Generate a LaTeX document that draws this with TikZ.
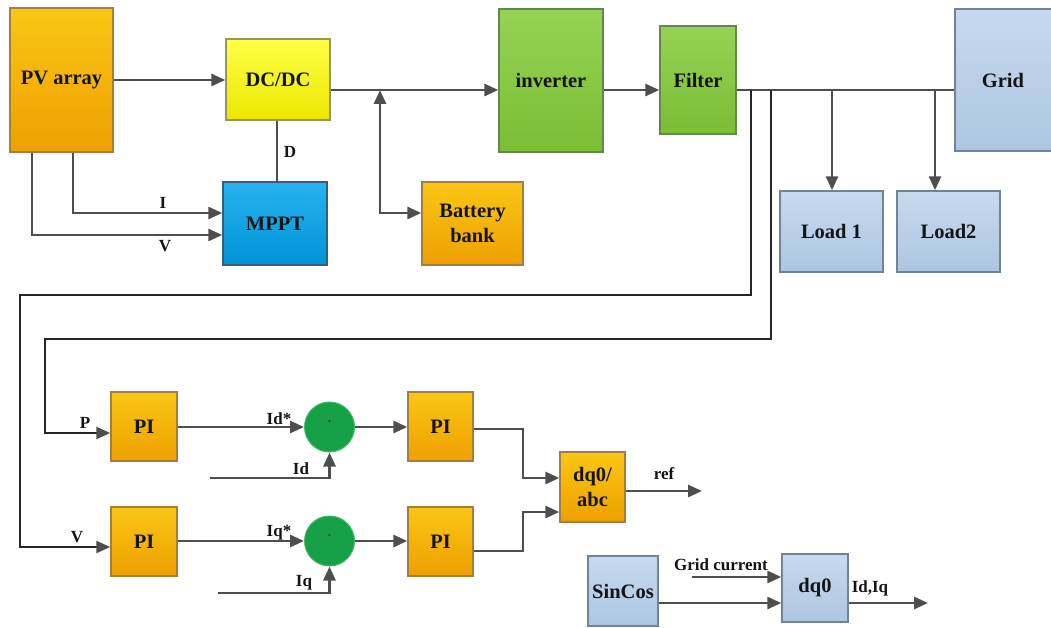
\documentclass[tikz,border=0pt]{standalone}
\usepackage{fontspec}
\setmainfont{Liberation Serif}
\usetikzlibrary{arrows.meta}
\definecolor{orT}{RGB}{250,198,20}
\definecolor{orB}{RGB}{238,160,0}
\definecolor{orD}{RGB}{165,125,60}
\definecolor{yeT}{RGB}{255,255,70}
\definecolor{yeB}{RGB}{235,232,0}
\definecolor{yeD}{RGB}{150,150,100}
\definecolor{blT}{RGB}{40,178,238}
\definecolor{blB}{RGB}{0,148,215}
\definecolor{blD}{RGB}{50,95,130}
\definecolor{grT}{RGB}{150,210,85}
\definecolor{grB}{RGB}{122,190,52}
\definecolor{grD}{RGB}{100,135,80}
\definecolor{lbT}{RGB}{200,217,236}
\definecolor{lbB}{RGB}{172,198,226}
\definecolor{lbD}{RGB}{115,130,150}
\definecolor{ciG}{RGB}{22,160,72}
\definecolor{ciD}{RGB}{70,185,100}
\definecolor{lineC}{RGB}{78,78,78}
\begin{document}
\begin{tikzpicture}[x=1pt,y=-1pt,
  box/.style={rectangle, line width=1.4pt, inner sep=0pt, align=center,
    font=\bfseries\fontsize{20.5}{25}\selectfont, text=black!92},
  obox/.style={box, top color=orT, bottom color=orB, draw=orD},
  ybox/.style={box, top color=yeT, bottom color=yeB, draw=yeD},
  bbox/.style={box, top color=blT, bottom color=blB, draw=blD},
  gbox/.style={box, top color=grT, bottom color=grB, draw=grD},
  lbox/.style={box, top color=lbT, bottom color=lbB, draw=lbD},
  sumc/.style={circle, fill=ciG, draw=ciD, line width=1pt, minimum size=50pt, inner sep=0pt},
  lab/.style={font=\bfseries\fontsize{17}{18}\selectfont, text=black!92, inner sep=0pt},
  con/.style={draw=lineC, line width=2.8pt},
  tip/.tip={Triangle[length=14pt,width=12pt]},
  arr/.style={con, -tip},
  dbl/.style={con, tip-tip},
  fb/.style={draw=black!85, line width=2.5pt},
  fbarr/.style={fb, -{Triangle[length=14pt,width=12pt,color=lineC]}}
]
\useasboundingbox (0,0) rectangle (1051,628);

% top row blocks
\node[obox, minimum width=103pt, minimum height=144pt] (pv) at (61.5,80) {PV array};
\node[ybox, minimum width=104pt, minimum height=81pt] (dcdc) at (278,79.5) {DC/DC};
\node[bbox, minimum width=104pt, minimum height=83pt] (mppt) at (275,223.5) {MPPT};
\node[gbox, minimum width=104pt, minimum height=143pt] (inv) at (551,80.5) {inverter};
\node[gbox, minimum width=76pt, minimum height=108pt] (filt) at (698,80) {Filter};
\node[lbox, minimum width=104pt, minimum height=142pt] (grid) at (1007,80) {\hspace*{-8pt}Grid};
\node[obox, minimum width=101pt, minimum height=83pt] (batt) at (472.5,223.5) {Battery\\bank};
\node[lbox, minimum width=103pt, minimum height=81pt] (load1) at (831.5,231.5) {Load 1};
\node[lbox, minimum width=103pt, minimum height=81pt] (load2) at (948.5,231.5) {Load2};

% control blocks
\node[obox, minimum width=66pt, minimum height=69pt] (pi1) at (144,426.5) {PI};
\node[obox, minimum width=66pt, minimum height=69pt] (pi2) at (144,541.5) {PI};
\node[sumc] (c1) at (329.5,427) {};
\node[sumc] (c2) at (329.5,541) {};
\fill[black!75] (329.5,421) circle (1.4pt);
\fill[black!75] (329.5,535) circle (1.4pt);
\node[obox, minimum width=65pt, minimum height=69pt] (pi3) at (440.5,426.5) {PI};
\node[obox, minimum width=65pt, minimum height=69pt] (pi4) at (440.5,541.5) {PI};
\node[obox, minimum width=65pt, minimum height=70pt] (dqabc) at (592.5,487) {dq0/\\abc};
\node[lbox, minimum width=70pt, minimum height=70pt] (sincos) at (623,591) {SinCos};
\node[lbox, minimum width=66pt, minimum height=68pt] (dq0) at (815,588) {dq0};

% coordinates
\coordinate (bj) at (380,90);
\coordinate (b1) at (751,90);
\coordinate (b2) at (771,90);
\coordinate (l1) at (832,90);
\coordinate (l2) at (935,90);
\coordinate (idin) at (210,478);
\coordinate (iqin) at (218,593);
\coordinate (gcin) at (692,577);
\coordinate (refout) at (702,491);
\coordinate (idqout) at (928,603);

% top connectors
\draw[arr] (pv.east |- 0,80) -- (dcdc.west |- 0,80);
\draw[arr] (dcdc.east |- bj) -- (inv.west |- bj);
\draw[dbl] (bj) |- (batt.west |- 0,213);
\draw[arr] (inv.east |- 0,90) -- (filt.west |- 0,90);
\draw[con] (filt.east |- 0,90) -- (grid.west |- 0,90);
\draw[arr] (l1) -- (load1.north -| l1);
\draw[arr] (l2) -- (load2.north -| l2);
\draw[con] (dcdc.south -| 277,0) -- (mppt.north -| 277,0);
\draw[arr] (pv.south -| 73,0) |- (mppt.west |- 0,213);
\draw[arr] (pv.south -| 32,0) |- (mppt.west |- 0,235);
\node[lab] (lI) at (163,203) {I};
\node[lab] (lV) at (165,246) {V};
\node[lab] (lD) at (290,152) {D};

% feedback lines
\draw[fbarr] (b1) -- (751,295) -- (20,295) |- (pi2.west |- 0,547);
\draw[fbarr] (b2) -- (771,339) -- (45,339) |- (pi1.west |- 0,433);
\node[lab] (lP) at (85,423) {P};
\node[lab] (lV2) at (77,537) {V};

% control connectors
\draw[arr] (pi1.east |- c1) -- (c1.west);
\draw[arr] (pi2.east |- c2) -- (c2.west);
\draw[arr] (idin) -| (c1.south);
\draw[arr] (iqin) -| (c2.south);
\node[lab] (lids) at (279,419) {Id*};
\node[lab] (lid) at (301,469) {Id};
\node[lab] (liqs) at (279,533) {Iq*};
\node[lab] (liq) at (304,583) {Iq};
\draw[arr] (c1.east) -- (pi3.west |- c1);
\draw[arr] (c2.east) -- (pi4.west |- c2);
\draw[arr] (pi3.east |- 0,429) -- (523,429) |- (dqabc.west |- 0,478);
\draw[arr] (pi4.east |- 0,551) -- (523,551) |- (dqabc.west |- 0,512);
\draw[arr] (dqabc.east |- refout) -- (refout);
\node[lab] (lref) at (664,474) {ref};

% dq0 block
\draw[arr] (gcin) -- (dq0.west |- gcin);
\draw[arr] (sincos.east |- 0,603) -- (dq0.west |- 0,603);
\draw[arr] (dq0.east |- idqout) -- (idqout);
\node[lab] (lgc) at (721,565) {Grid current};
\node[lab] (lidq) at (870,588) {Id,Iq};
\end{tikzpicture}
\end{document}
